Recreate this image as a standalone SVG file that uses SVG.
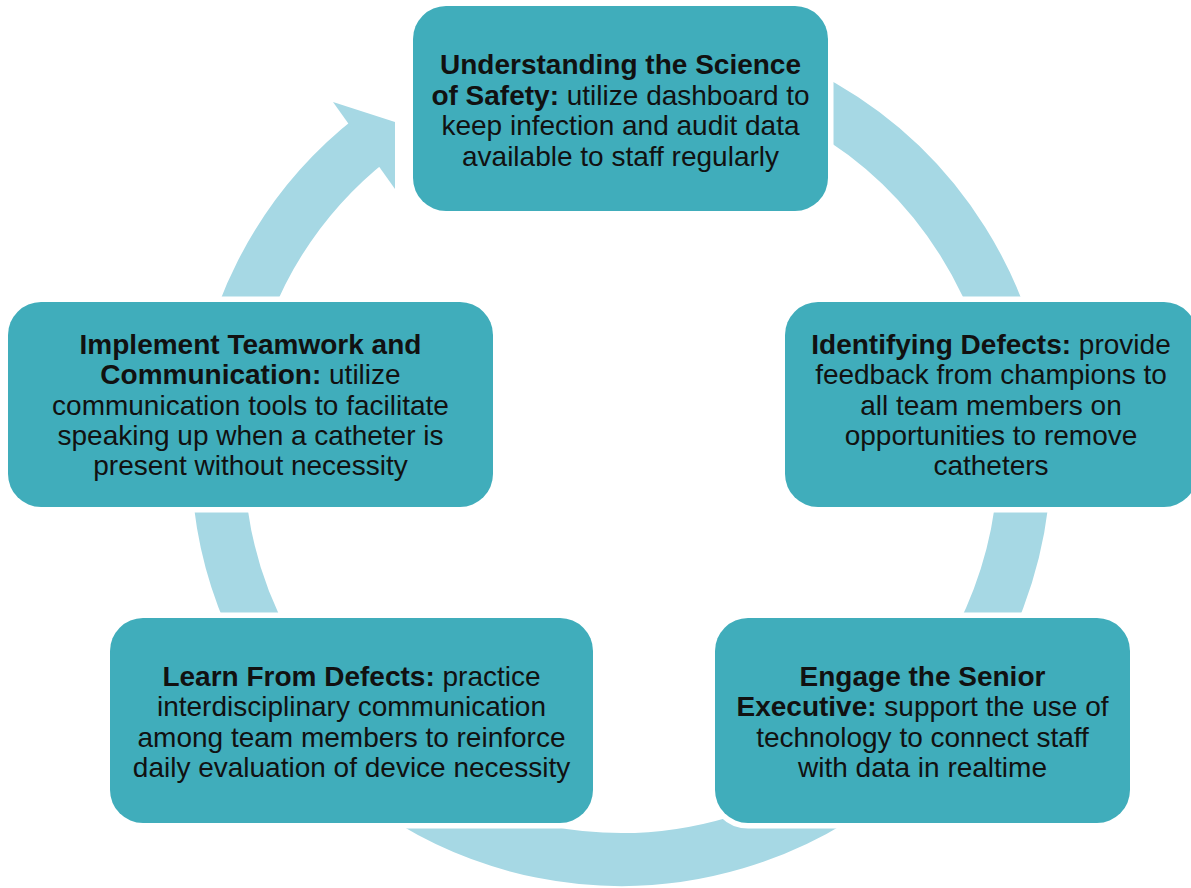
<svg xmlns="http://www.w3.org/2000/svg" width="1191" height="888" viewBox="0 0 1191 888">
<style>
.box{fill:#40adbb;stroke:#ffffff;stroke-width:11;paint-order:stroke}
.t{font-family:"Liberation Sans",Arial,sans-serif;font-size:28px;fill:#111;text-anchor:middle}
.b{font-weight:bold}
.ring{fill:none;stroke:#a6d8e4;stroke-width:53}
</style>
<rect width="1191" height="888" fill="#ffffff"/>
<g id="connectors">
<path class="ring" d="M 656.2 54.0 A 403.5 403.5 0 1 1 372.6 138.0"/>
<polygon points="333,102 395,122 395,189" fill="#a6d8e4"/>
</g>
<g id="node-science">
<rect class="box" x="413" y="6" width="415" height="205" rx="33"/>
<text class="t"><tspan x="620.5" y="74" class="b">Understanding the Science</tspan><tspan x="620.5" y="104.5"><tspan class="b">of Safety:</tspan> utilize dashboard to</tspan><tspan x="620.5" y="135">keep infection and audit data</tspan><tspan x="620.5" y="165.5">available to staff regularly</tspan></text>
</g>
<g id="node-identifying">
<rect class="box" x="785" y="302" width="412" height="205" rx="33"/>
<text class="t"><tspan x="991" y="354"><tspan class="b">Identifying Defects:</tspan> provide</tspan><tspan x="991" y="384.3">feedback from champions to</tspan><tspan x="991" y="414.6">all team members on</tspan><tspan x="991" y="444.9">opportunities to remove</tspan><tspan x="991" y="475.2">catheters</tspan></text>
</g>
<g id="node-implement">
<rect class="box" x="8" y="302" width="485" height="205" rx="33"/>
<text class="t"><tspan x="250.5" y="354" class="b">Implement Teamwork and</tspan><tspan x="250.5" y="384.3"><tspan class="b">Communication:</tspan> utilize</tspan><tspan x="250.5" y="414.6">communication tools to facilitate</tspan><tspan x="250.5" y="444.9">speaking up when a catheter is</tspan><tspan x="250.5" y="475.2">present without necessity</tspan></text>
</g>
<g id="node-learn">
<rect class="box" x="110" y="618" width="483" height="205" rx="33"/>
<text class="t"><tspan x="351.5" y="686"><tspan class="b">Learn From Defects:</tspan> practice</tspan><tspan x="351.5" y="716.3">interdisciplinary communication</tspan><tspan x="351.5" y="746.6">among team members to reinforce</tspan><tspan x="351.5" y="776.9">daily evaluation of device necessity</tspan></text>
</g>
<g id="node-engage">
<rect class="box" x="715" y="618" width="415" height="205" rx="33"/>
<text class="t"><tspan x="922.5" y="686" class="b">Engage the Senior</tspan><tspan x="922.5" y="716.3"><tspan class="b">Executive:</tspan> support the use of</tspan><tspan x="922.5" y="746.6">technology to connect staff</tspan><tspan x="922.5" y="776.9">with data in realtime</tspan></text>
</g>
</svg>
